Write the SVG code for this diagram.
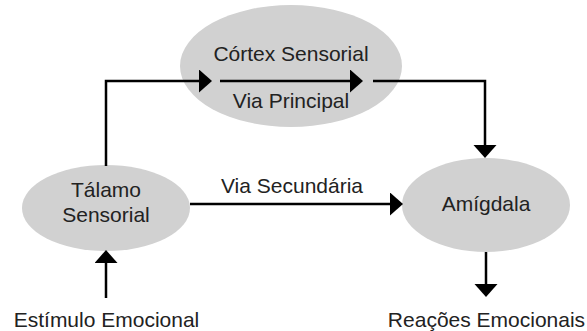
<svg xmlns="http://www.w3.org/2000/svg" width="587" height="331" viewBox="0 0 587 331">
  <style>
    .node { fill: #d1d1d1; stroke: none; }
    .label { font-family: "Liberation Sans", Arial, sans-serif; font-size: 21px; fill: #222; text-anchor: middle; }
    .edge { fill: none; stroke: #000; stroke-width: 2.5; marker-end: url(#arrow); }
  </style>
  <defs>
    <marker id="arrow" markerUnits="userSpaceOnUse" markerWidth="14" markerHeight="24" refX="3" refY="11.5" orient="auto">
      <path d="M0,0 L13,11.5 L0,23 Z" fill="#000"/>
    </marker>
  </defs>
  <rect width="587" height="331" fill="#fff"/>

  <g id="cortex">
    <ellipse class="node" cx="291" cy="66" rx="111" ry="61"/>
    <text class="label" x="291" y="61">Córtex Sensorial</text>
    <text class="label" x="291" y="108">Via Principal</text>
  </g>
  <g id="talamo">
    <ellipse class="node" cx="106" cy="208" rx="84" ry="43"/>
    <text class="label" x="106" y="197">Tálamo</text>
    <text class="label" x="106" y="222">Sensorial</text>
  </g>
  <g id="amigdala">
    <ellipse class="node" cx="486" cy="205" rx="84" ry="47"/>
    <text class="label" x="486" y="211">Amígdala</text>
  </g>
  <g id="estimulo">
    <text class="label" x="106.5" y="327">Estímulo Emocional</text>
  </g>
  <g id="reacoes">
    <text class="label" x="486.5" y="327">Reações Emocionais</text>
  </g>
  <g id="via-secundaria">
    <text class="label" x="292" y="193">Via Secundária</text>
  </g>

  <g id="connectors">
    <path class="edge" d="M106,166 V81 H202"/>
    <path class="edge" d="M220,81 H353"/>
    <path class="edge" d="M373,81 H485 V148"/>
    <path class="edge" d="M190,204 H393"/>
    <path class="edge" d="M486,252 V287"/>
    <path class="edge" d="M106,298 V260"/>
  </g>
</svg>
